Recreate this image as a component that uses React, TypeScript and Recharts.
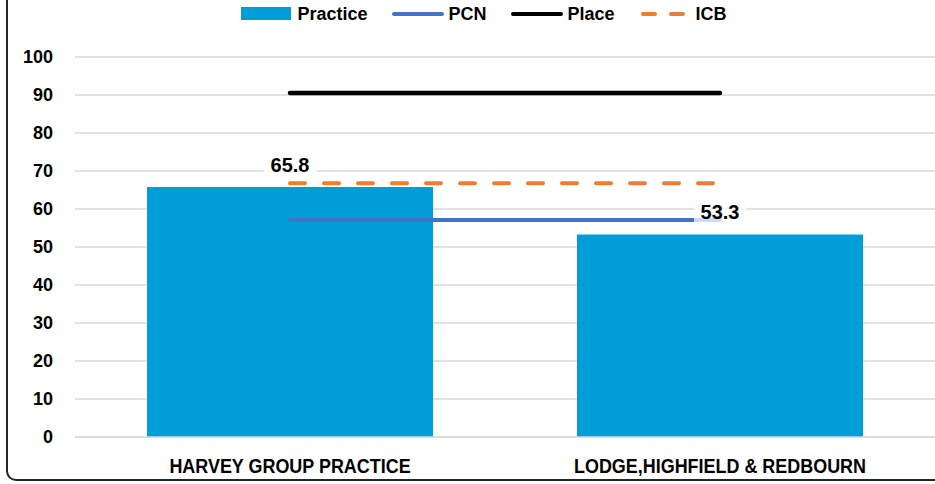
import React from 'react';
import { ComposedChart, Bar, Line, XAxis, YAxis, CartesianGrid, Legend, LabelList } from 'recharts';

const categories = ['HARVEY GROUP PRACTICE', 'LODGE,HIGHFIELD & REDBOURN'];
const practiceValues = [65.8, 53.3];
const pcnValues = [57.1, 57.1];
const placeValues = [90.5, 90.5];
const icbValues = [66.8, 66.8];
const yTicks = [0, 10, 20, 30, 40, 50, 60, 70, 80, 90, 100];
const seriesNames = { practice: 'Practice', pcn: 'PCN', place: 'Place', icb: 'ICB' };

const COLORS = {
  practice: '#009DD9',
  pcn: '#4472C4',
  place: '#000000',
  icb: '#ED7D31',
};

const FONT = "'Liberation Sans', Arial, sans-serif";

const data = categories.map((name, i) => ({
  name,
  practice: practiceValues[i],
  pcn: pcnValues[i],
  place: placeValues[i],
  icb: icbValues[i],
}));

const ValueLabel = (props: any) => {
  const vb = props.viewBox || {};
  const cx = props.x ?? vb.x;
  const cy = props.y ?? vb.y;
  if (cx == null || cy == null) return null;
  const by = cy - 15;
  return (
    <g>
      <rect x={cx - 26} y={by - 22} width={53} height={26} fill="#ffffff" fillOpacity={0.75} />
      <text x={cx} y={by} textAnchor="middle" fontFamily={FONT} fontWeight={700} fontSize={20} fill="#000">
        {props.value}
      </text>
    </g>
  );
};

const XTick = (props: any) => {
  const { x, y, payload } = props;
  return (
    <g transform={`translate(${x},${y}) scale(0.93,1)`}>
      <text x={0} y={0} dy="0.72em" textAnchor="middle" fontFamily={FONT} fontWeight={700} fontSize={19.3} fill="#000">
        {payload.value}
      </text>
    </g>
  );
};

const Swatch = ({ kind }: { kind: string }) => {
  if (kind === 'practice') {
    return (
      <svg width={52} height={16} style={{ display: 'block' }}>
        <rect x={1} y={1} width={50} height={13} fill={COLORS.practice} />
      </svg>
    );
  }
  if (kind === 'icb') {
    return (
      <svg width={52} height={16} style={{ display: 'block' }}>
        <line x1={4} y1={8} x2={48} y2={8} stroke={COLORS.icb} strokeWidth={4} strokeDasharray="12 16" strokeLinecap="round" />
      </svg>
    );
  }
  const color = kind === 'pcn' ? COLORS.pcn : COLORS.place;
  return (
    <svg width={52} height={16} style={{ display: 'block' }}>
      <line x1={2} y1={8} x2={50} y2={8} stroke={color} strokeWidth={4} strokeLinecap="round" />
    </svg>
  );
};

const LegendContent = () => {
  const keys = ['practice', 'pcn', 'place', 'icb'] as const;
  return (
    <div style={{ display: 'flex', justifyContent: 'center', alignItems: 'center', paddingLeft: 32, height: 28 }}>
      {keys.map((k, i) => (
        <div key={k} style={{ display: 'flex', alignItems: 'center', marginLeft: i === 0 ? 0 : 24 }}>
          <Swatch kind={k} />
          <span style={{ marginLeft: 5, fontFamily: FONT, fontWeight: 700, fontSize: 18, color: '#000', lineHeight: '20px' }}>
            {seriesNames[k]}
          </span>
        </div>
      ))}
    </div>
  );
};

export default function App() {
  return (
    <div style={{ position: 'absolute', left: 0, top: 0, width: 935, height: 484, overflow: 'hidden', background: '#fff' }}>
      <div
        style={{
          position: 'absolute',
          left: 6,
          top: -20,
          width: 1000,
          height: 501,
          boxSizing: 'border-box',
          border: '2px solid #262626',
          borderRadius: 10,
        }}
      />
      <div style={{ position: 'absolute', left: 0, top: 0 }}>
        <ComposedChart width={935} height={484} data={data} margin={{ top: 57, right: 0, bottom: 7, left: 15 }}>
          <CartesianGrid vertical={false} stroke="#D9D9D9" strokeWidth={1.3} />
          <XAxis
            dataKey="name"
            axisLine={{ stroke: '#D9D9D9', strokeWidth: 1.5 }}
            tickLine={false}
            tickSize={0}
            tickMargin={22}
            height={40}
            tick={<XTick />}
            interval={0}
          />
          <YAxis
            domain={[0, 100]}
            ticks={yTicks}
            width={60}
            axisLine={false}
            tickLine={false}
            tickSize={0}
            tickMargin={22}
            tick={{ fontFamily: FONT, fontWeight: 700, fontSize: 18, fill: '#000' }}
            interval={0}
          />
          <Legend
            layout="horizontal"
            verticalAlign="middle"
            align="center"
            content={<LegendContent />}
            wrapperStyle={{ top: 0, left: 0, width: 935, height: 28 }}
          />
          <Bar dataKey="practice" name={seriesNames.practice} fill={COLORS.practice} barSize={286} isAnimationActive={false} />
          <Line dataKey="pcn" name={seriesNames.pcn} stroke={COLORS.pcn} strokeWidth={4} strokeLinecap="round" dot={false} activeDot={false} isAnimationActive={false} />
          <Line dataKey="place" name={seriesNames.place} stroke={COLORS.place} strokeWidth={4.5} strokeLinecap="round" dot={false} activeDot={false} isAnimationActive={false} />
          <Line
            dataKey="icb"
            name={seriesNames.icb}
            stroke={COLORS.icb}
            strokeWidth={4}
            strokeDasharray="15 19"
            strokeLinecap="round"
            dot={false}
            activeDot={false}
            isAnimationActive={false}
          />
          <Line dataKey="practice" stroke="none" dot={false} activeDot={false} legendType="none" isAnimationActive={false}>
            <LabelList dataKey="practice" content={<ValueLabel />} />
          </Line>
        </ComposedChart>
      </div>
    </div>
  );
}
